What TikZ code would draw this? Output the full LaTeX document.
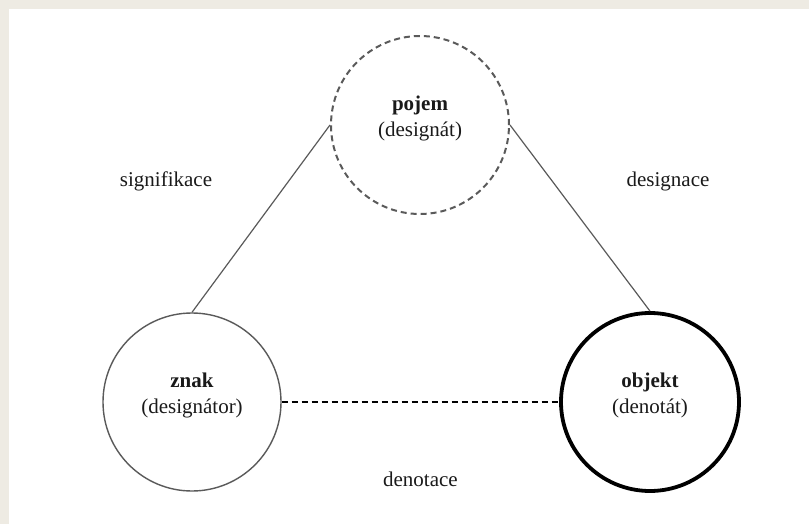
\documentclass[tikz,border=0pt]{standalone}
\usepackage{fontspec}
\setmainfont{Liberation Serif}
\usepackage{tikz}

\definecolor{paper}{HTML}{EEEBE3}
\definecolor{linegray}{HTML}{5A5A5A}
\definecolor{inkgray}{HTML}{1A1A1A}

\begin{document}
\begin{tikzpicture}[x=1pt,y=-1pt,
		font=\fontsize{21}{26}\selectfont,
		term/.style={circle,draw,minimum size=178pt,inner sep=0pt,align=center,text=inkgray},
		relname/.style={text=inkgray}]
		\useasboundingbox (0,0) rectangle (809,524);
		\fill[paper] (0,0) rectangle (809,524);
		\fill[white] (9,9) rectangle (809,524);

		\draw[color=linegray, line width=1.4pt]
		node[term,dashed,dash pattern=on 6pt off 4pt,line width=2pt] (pojem) at (420, 125){\textbf{pojem}\\(designát)\\[-8pt]}
		node[term] (znak) at (192, 402){\textbf{znak}\\(designátor)\\[-8pt]}
		node[term,draw=black,line width=3.8pt] (objekt) at (650, 402){\textbf{objekt}\\(denotát)\\[-8pt]};
		\draw [color=linegray, line width=1.2pt] (znak.north) -- (pojem.west) node[relname,midway,xshift=-95,yshift=37] {signifikace};
		\draw [color=linegray, line width=1.2pt] (pojem.east) -- (objekt.north) node[relname,midway,xshift=88,yshift=37] {designace};
		\draw [color=black, line width=1.2pt, dashed, dash pattern=on 6pt off 4pt] (znak.east) -- (objekt.west) node[relname,midway,yshift=-77] {denotace};
		\end{tikzpicture}
\end{document}
